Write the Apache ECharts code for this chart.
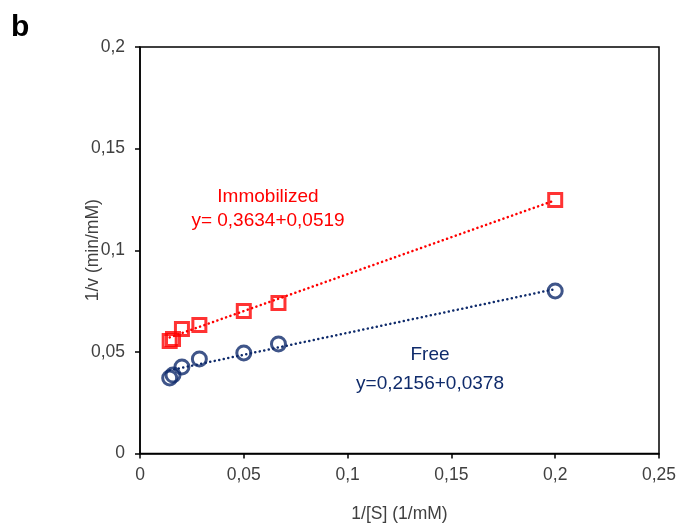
<!DOCTYPE html>
<html>
<head>
<meta charset="utf-8">
<script src="https://cdn.jsdelivr.net/npm/echarts@6/dist/echarts.min.js"></script>
<style>
  html, body { margin: 0; padding: 0; background: #fff; }
  #chart { width: 679px; height: 523px; }
</style>
</head>
<body>
<div id="chart"></div>
<script>
// 1/[S] values (1/mM)
var substrateInv = [0.0143, 0.0159, 0.0202, 0.0286, 0.05, 0.0667, 0.2]
// 1/v values (min/mM)
var immobilized = [0.0553, 0.0563, 0.0612, 0.0632, 0.0701, 0.0740, 0.1247]
var free = [0.0372, 0.0386, 0.0426, 0.0465, 0.0495, 0.0539, 0.0800]

// trend line end points
var trendX = [0.0143, 0.2]
var immobilizedTrend = [0.0571, 0.1246]
var freeTrend = [0.0409, 0.0809]

var xTickLabels = ['0', '0,05', '0,1', '0,15', '0,2', '0,25']
var yTickLabels = ['0', '0,05', '0,1', '0,15', '0,2']

var RED = '#ff0000'
var NAVY = '#0f2b6b'
var FONT = 'Liberation Sans, Arial, sans-serif'

function pairs(xs, ys) {
  return xs.map(function(x, i) { return [x, ys[i]] })
}

var chart = echarts.init(document.getElementById('chart'))
chart.setOption({
  animation: false,
  textStyle: { fontFamily: FONT },
  grid: {
    left: 140, top: 47, right: 20, bottom: 69.5,
    outerBoundsMode: 'none',
    show: true,
    borderColor: '#000',
    borderWidth: 1.5
  },
  xAxis: {
    type: 'value',
    min: 0,
    max: 0.25,
    interval: 0.05,
    name: '1/[S] (1/mM)',
    nameLocation: 'middle',
    nameGap: 52,
    nameMoveOverlap: false,
    nameTextStyle: { color: '#404040', fontSize: 17.5, fontFamily: FONT },
    axisLine: { onZero: false, lineStyle: { color: '#000', width: 1.5 } },
    axisTick: { show: true, inside: false, length: 5, lineStyle: { color: '#000', width: 1.5 } },
    axisLabel: {
      color: '#404040', fontSize: 17.5, margin: 13,
      formatter: function(v) { return xTickLabels[Math.round(v / 0.05)] }
    },
    splitLine: { show: false }
  },
  yAxis: {
    type: 'value',
    min: 0,
    max: 0.2,
    interval: 0.05,
    name: '1/v (min/mM)',
    nameLocation: 'middle',
    nameGap: 38,
    nameMoveOverlap: false,
    nameRotate: 90,
    nameTextStyle: { color: '#404040', fontSize: 17.5, fontFamily: FONT },
    axisLine: { onZero: false, lineStyle: { color: '#000', width: 1.5 } },
    axisTick: { show: true, inside: false, length: 5, lineStyle: { color: '#000', width: 1.5 } },
    axisLabel: {
      color: '#404040', fontSize: 17.5, margin: 15,
      formatter: function(v) { return yTickLabels[Math.round(v / 0.05)] }
    },
    splitLine: { show: false }
  },
  graphic: [
    { type: 'text', left: 11, top: 13, style: { text: 'b', font: 'bold 30px ' + FONT, fill: '#000' } },
    { type: 'text', x: 268, y: 197, style: { text: 'Immobilized', font: '19px ' + FONT, fill: RED, align: 'center', verticalAlign: 'middle' } },
    { type: 'text', x: 268, y: 221, style: { text: 'y= 0,3634+0,0519', font: '19px ' + FONT, fill: RED, align: 'center', verticalAlign: 'middle' } },
    { type: 'text', x: 430, y: 355, style: { text: 'Free', font: '19px ' + FONT, fill: NAVY, align: 'center', verticalAlign: 'middle' } },
    { type: 'text', x: 430, y: 384, style: { text: 'y=0,2156+0,0378', font: '19px ' + FONT, fill: NAVY, align: 'center', verticalAlign: 'middle' } }
  ],
  series: [
    {
      type: 'line',
      data: pairs(trendX, immobilizedTrend),
      symbol: 'none',
      lineStyle: { color: RED, width: 2.5, type: [0.1, 4.5], cap: 'round' },
      z: 1
    },
    {
      type: 'line',
      data: pairs(trendX, freeTrend),
      symbol: 'none',
      lineStyle: { color: NAVY, width: 2.5, type: [0.1, 4.5], cap: 'round' },
      z: 1
    },
    {
      type: 'scatter',
      data: pairs(substrateInv, immobilized),
      symbol: 'rect',
      symbolSize: 13,
      itemStyle: { color: 'rgba(255,255,255,0)', borderColor: RED, borderWidth: 3 },
      z: 3
    },
    {
      type: 'scatter',
      data: pairs(substrateInv, free),
      symbol: 'circle',
      symbolSize: 14,
      itemStyle: { color: 'rgba(255,255,255,0)', borderColor: NAVY, borderWidth: 3 },
      z: 3
    }
  ]
})
</script>
</body>
</html>
